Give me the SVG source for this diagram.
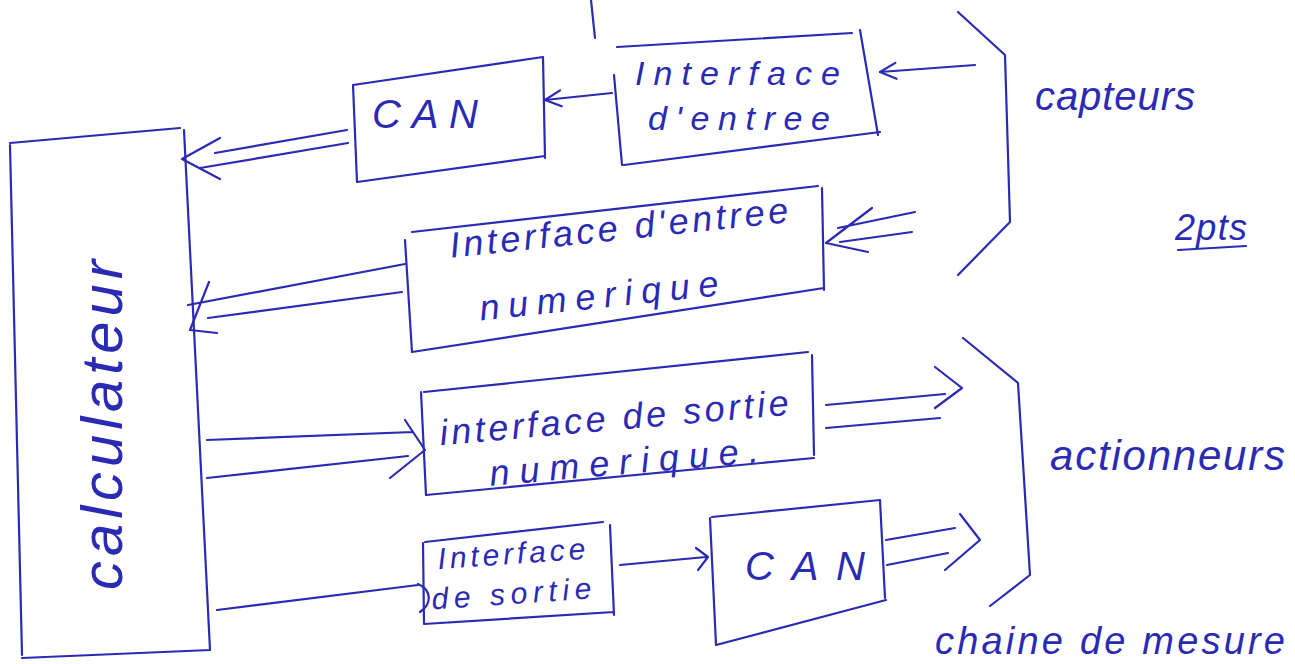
<svg xmlns="http://www.w3.org/2000/svg" width="1295" height="664" viewBox="0 0 1295 664">
<defs>
<style>
.ink{fill:none;stroke:#2a2ab4;stroke-width:2.2;stroke-linecap:round;stroke-linejoin:round}
.t{fill:#2a2ab4;font-family:"Liberation Sans","DejaVu Sans",sans-serif;font-style:italic}
</style>
<marker id="ah" viewBox="0 0 20 20" refX="18" refY="10" markerWidth="20" markerHeight="20" markerUnits="userSpaceOnUse" orient="auto">
<path d="M2,2 L18,10 L2,18" fill="none" stroke="#2a2ab4" stroke-width="2.2" stroke-linecap="round" stroke-linejoin="round"/>
</marker>
</defs>
<rect width="1295" height="664" fill="#ffffff"/>

<g id="calculateur">
<path class="ink" d="M10,143 L180,128 M184,130 L210,650 M22,658 L210,650 M10,145 L22,655"/>
<text class="t" transform="translate(122,425) rotate(-90)" font-size="58" text-anchor="middle" textLength="330" lengthAdjust="spacing">calculateur</text>
</g>

<g id="can-entree">
<path class="ink" d="M353,85 L543,57 M543,57 L545,158 M357,182 L545,156 M353,85 L357,182"/>
<text class="t" x="372" y="128" font-size="40" textLength="106" lengthAdjust="spacing">CAN</text>
</g>

<g id="interface-entree">
<path class="ink" d="M617,47 L852,33 M860,30 L878,135 M624,165 L880,132 M614,75 L622,165"/>
<text class="t" x="635" y="85" font-size="34" textLength="205" lengthAdjust="spacing">Interface</text>
<text class="t" x="648" y="130" font-size="34" textLength="182" lengthAdjust="spacing">d'entree</text>
</g>

<g id="interface-entree-numerique">
<path class="ink" d="M412,232 L818,186 M822,188 L824,290 M412,352 L824,288 M405,240 L412,352"/>
<text class="t" transform="translate(620,240) rotate(-6)" font-size="36" text-anchor="middle" textLength="340" lengthAdjust="spacing">Interface d'entree</text>
<text class="t" transform="translate(600,308) rotate(-6)" font-size="36" text-anchor="middle" textLength="240" lengthAdjust="spacing">numerique</text>
</g>

<g id="interface-sortie-numerique">
<path class="ink" d="M424,392 L808,352 M812,355 L814,455 M426,495 L814,458 M421,392 L426,495"/>
<text class="t" transform="translate(615,430) rotate(-5)" font-size="36" text-anchor="middle" textLength="350" lengthAdjust="spacing">interface de sortie</text>
<text class="t" transform="translate(625,474) rotate(-5)" font-size="36" text-anchor="middle" textLength="270" lengthAdjust="spacing">numerique.</text>
</g>

<g id="interface-sortie">
<path class="ink" d="M425,542 L603,522 M610,525 L614,615 M424,624 L614,612 M423,543 L424,624"/>
<text class="t" transform="translate(512,564) rotate(-4)" font-size="30" text-anchor="middle" textLength="148" lengthAdjust="spacing">Interface</text>
<text class="t" transform="translate(512,604) rotate(-4)" font-size="30" text-anchor="middle" textLength="160" lengthAdjust="spacing">de sortie</text>
</g>

<g id="can-sortie">
<path class="ink" d="M712,517 L880,500 M880,500 L885,598 M716,645 L886,600 M710,518 L716,645"/>
<text class="t" x="745" y="580" font-size="40" textLength="120" lengthAdjust="spacing">CAN</text>
</g>

<g id="capteurs">
<path class="ink" d="M958,12 L1005,55 L1010,222 L958,275"/>
<text class="t" x="1035" y="110" font-size="40" textLength="160" lengthAdjust="spacing">capteurs</text>
</g>

<g id="actionneurs">
<path class="ink" d="M963,338 L1018,383 L1030,575 L990,606"/>
<text class="t" x="1050" y="470" font-size="42" textLength="235" lengthAdjust="spacing">actionneurs</text>
</g>

<g id="note">
<text class="t" x="1175" y="240" font-size="36" textLength="72" lengthAdjust="spacing">2pts</text>
<path class="ink" d="M1178,250 L1246,246"/>
<text class="t" x="935" y="654" font-size="38" textLength="350" lengthAdjust="spacing">chaine de mesure</text>
<path class="ink" d="M591,0 L595,38"/>
</g>

<g id="connectors">
<path class="ink" d="M612,93 L545,100" marker-end="url(#ah)"/>
<path class="ink" d="M975,65 L880,72" marker-end="url(#ah)"/>
<path class="ink" d="M347,130 L215,153 M348,143 L200,168 M220,138 L182,159 L220,179"/>
<path class="ink" d="M915,212 L838,228 M912,232 L840,242 M872,208 L826,243 L868,252"/>
<path class="ink" d="M405,264 L188,305 M402,292 L208,318 M209,282 L190,330 L217,333"/>
<path class="ink" d="M207,440 L413,432 M207,478 L408,456 M405,420 L425,450 L390,478"/>
<path class="ink" d="M826,405 L945,394 M826,428 L940,418 M935,367 L962,388 L935,408"/>
<path class="ink" d="M217,610 L418,585 M418,584 C432,590 432,604 420,612"/>
<path class="ink" d="M620,565 L706,557 M696,548 L708,557 L698,570"/>
<path class="ink" d="M886,540 L955,528 M887,565 L948,553 M960,514 L980,540 L945,570"/>
</g>
</svg>
